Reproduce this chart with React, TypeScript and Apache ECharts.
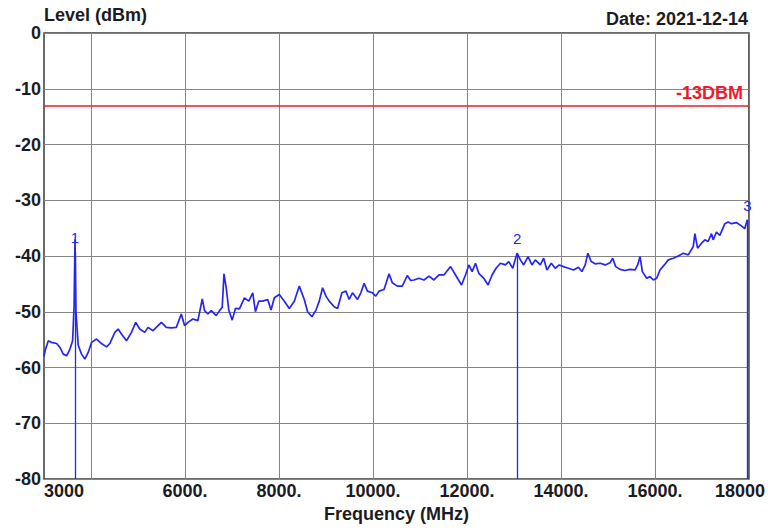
import React, { useEffect, useRef } from "react";
import * as echarts from "echarts";

const traceFreqMHz = [
  3000, 3030, 3092, 3163, 3269, 3340, 3410, 3481, 3552, 3609, 3640, 3660, 3680, 3728, 3799, 3870, 3940,
  4012, 4118, 4224, 4330, 4400, 4507, 4577, 4648, 4755, 4861, 4952, 5037, 5143, 5213, 5319, 5390, 5497,
  5603, 5709, 5815, 5921, 5992, 6062, 6168, 6274, 6368, 6416, 6487, 6559, 6665, 6735, 6792, 6830, 6877,
  6932, 7004, 7074, 7159, 7265, 7357, 7442, 7499, 7569, 7654, 7760, 7831, 7901, 8007, 8114, 8220, 8326,
  8432, 8538, 8609, 8702, 8787, 8857, 8928, 8999, 9069, 9175, 9246, 9339, 9424, 9494, 9564, 9671, 9742,
  9812, 9882, 9988, 10060, 10130, 10236, 10342, 10412, 10518, 10624, 10730, 10803, 10873, 10979, 11085,
  11191, 11297, 11403, 11509, 11651, 11757, 11884, 11969, 12040, 12110, 12181, 12252, 12358, 12449, 12534,
  12619, 12712, 12818, 12889, 12974, 13066, 13137, 13207, 13299, 13384, 13454, 13561, 13631, 13702, 13794,
  13879, 13964, 14055, 14161, 14267, 14373, 14445, 14516, 14572, 14643, 14728, 14834, 14940, 15046, 15101,
  15165, 15258, 15364, 15470, 15576, 15632, 15683, 15732, 15823, 15895, 15965, 16036, 16108, 16199, 16284,
  16390, 16496, 16603, 16709, 16815, 16850, 16906, 16991, 17062, 17132, 17203, 17239, 17309, 17381, 17487,
  17557, 17627, 17733, 17839, 17910, 17965,
];

const traceLevelDbm = [
  -58.0, -56.8, -55.2, -55.5, -55.7, -56.4, -57.6, -57.9, -56.7, -55.2, -49.0, -37.0, -50.0, -56.0, -57.6, -58.5, -57.3,
  -55.5, -54.9, -55.7, -56.3, -55.7, -53.7, -53.1, -54.0, -55.2, -53.7, -51.9, -53.1, -53.7, -52.8, -53.4, -52.8, -51.9,
  -52.8, -52.9, -52.8, -50.4, -52.5, -51.9, -51.3, -51.6, -47.7, -49.8, -50.4, -49.8, -50.7, -49.8, -49.2, -43.2, -45.7,
  -49.7, -51.5, -49.4, -49.5, -47.5, -48.1, -46.6, -50.0, -48.1, -48.1, -47.8, -49.7, -47.5, -46.9, -48.1, -49.4, -48.1,
  -45.4, -47.8, -50.0, -50.9, -49.7, -48.1, -45.7, -47.2, -48.1, -49.1, -49.4, -46.6, -46.3, -47.8, -46.6, -47.8, -46.6,
  -44.9, -46.3, -46.6, -47.2, -46.3, -46.0, -43.2, -44.8, -45.4, -45.4, -43.5, -44.4, -44.3, -44.0, -44.3,
  -43.6, -44.3, -43.4, -43.4, -41.9, -43.4, -45.2, -43.4, -41.6, -42.8, -41.3, -43.1, -44.0, -45.2, -43.4,
  -42.2, -41.3, -41.6, -41.0, -42.2, -39.5, -40.7, -41.6, -40.1, -41.6, -40.7, -41.6, -40.4, -42.5, -41.3,
  -42.2, -41.6, -41.9, -42.2, -42.5, -42.0, -42.8, -41.6, -39.5, -41.0, -41.4, -41.3, -41.6, -41.2, -40.4,
  -41.9, -42.4, -42.6, -42.4, -42.5, -41.6, -40.1, -42.8, -44.0, -43.7, -44.3, -44.0, -42.5, -41.6, -40.7,
  -40.4, -40.0, -39.5, -39.8, -38.3, -36.0, -38.6, -37.7, -37.1, -37.4, -36.0, -37.1, -35.7, -36.3, -34.2,
  -33.9, -34.2, -34.0, -34.6, -35.1, -33.5,
];

const markerNames = ["1", "2", "3"];
const markerFreqMHz = [3660, 13066, 17965];
const markerLevelDbm = [-39.3, -39.5, -33.5];

const limitDbm = -13;
const limitLabel = "-13DBM";

const xMin = 3000;
const xMax = 18000;
const xGridValues = [4000, 6000, 8000, 10000, 12000, 14000, 16000];
const xLabelValues = [3000, 6000, 8000, 10000, 12000, 14000, 16000, 18000];
const xLabelTexts = ["3000", "6000.", "8000.", "10000.", "12000.", "14000.", "16000.", "18000"];

const yMin = -80;
const yMax = 0;
const yStep = 10;

const dateText = "Date: 2021-12-14";
const yTitle = "Level (dBm)";
const xTitle = "Frequency (MHz)";

const FONT = "'Liberation Sans', Arial, sans-serif";
const TEXT = "#1b1b22";
const BLUE = "#2626f2";
const RED = "#ee1c2a";

export default function App() {
  const ref = useRef<HTMLDivElement>(null);

  useEffect(() => {
    if (!ref.current) return;
    const chart = echarts.init(ref.current, null, { renderer: "svg" });

    const traceData = traceFreqMHz.map((f, i) => [f, traceLevelDbm[i]]);

    const markerLines = markerFreqMHz.map((f, i) => [
      {
        coord: [f, markerLevelDbm[i]],
        lineStyle: { color: BLUE, width: 1.3, type: "solid" },
        label: {
          show: true,
          position: "start",
          formatter: markerNames[i],
          color: BLUE,
          fontFamily: FONT,
          fontSize: 15,
          distance: 7,
        },
      },
      { coord: [f, yMin] },
    ]);

    chart.setOption({
      animation: false,
      backgroundColor: "#ffffff",
      title: {
        text: dateText,
        right: 15,
        top: 5,
        textStyle: { fontFamily: FONT, fontSize: 18, fontWeight: "bold", color: TEXT },
      },
      grid: {
        left: 44,
        right: 17,
        top: 33,
        bottom: 51,
        show: true,
        borderColor: "#3a3a3a",
        borderWidth: 1.5,
        backgroundColor: "transparent",
      },
      xAxis: {
        type: "value",
        min: xMin,
        max: xMax,
        name: xTitle,
        nameLocation: "middle",
        nameGap: 24,
        nameTextStyle: { fontFamily: FONT, fontSize: 18, fontWeight: "bold", color: TEXT },
        axisLine: { show: false },
        axisTick: { show: false, customValues: xGridValues },
        axisLabel: {
          customValues: xLabelValues,
          formatter: (v: number) => {
            const idx = xLabelValues.indexOf(v);
            if (idx < 0) return "";
            return v === xMax ? "{edge|" + xLabelTexts[idx] + "}" : xLabelTexts[idx];
          },
          rich: {
            edge: {
              width: 34,
              align: "left",
              fontFamily: FONT,
              fontSize: 18,
              fontWeight: "bold",
              color: TEXT,
            },
          },
          fontFamily: FONT,
          fontSize: 18,
          fontWeight: "bold",
          color: TEXT,
          margin: 3,
          alignMinLabel: "left",
          alignMaxLabel: "right",
          hideOverlap: false,
        },
        splitLine: { show: true, lineStyle: { color: "#858585", width: 1 } },
      },
      yAxis: {
        type: "value",
        min: yMin,
        max: yMax,
        interval: yStep,
        name: yTitle,
        nameLocation: "end",
        nameGap: 3,
        nameTextStyle: {
          fontFamily: FONT,
          fontSize: 18,
          fontWeight: "bold",
          color: TEXT,
          align: "left",
        },
        axisLine: { show: false },
        axisTick: { show: false },
        axisLabel: {
          fontFamily: FONT,
          fontSize: 18,
          fontWeight: "bold",
          color: TEXT,
          margin: 3,
        },
        splitLine: { show: true, lineStyle: { color: "#858585", width: 1 } },
      },
      series: [
        {
          type: "line",
          name: "Trace",
          data: traceData,
          showSymbol: false,
          symbol: "none",
          lineStyle: { color: BLUE, width: 1.7 },
          z: 3,
          markLine: {
            silent: true,
            symbol: ["none", "none"],
            animation: false,
            data: [
              {
                yAxis: limitDbm,
                lineStyle: { color: RED, width: 1.6, type: "solid" },
                label: {
                  show: true,
                  position: "insideEndTop",
                  formatter: limitLabel,
                  color: RED,
                  fontFamily: FONT,
                  fontSize: 18,
                  fontWeight: "bold",
                  distance: [6, 3],
                },
              },
              ...markerLines,
            ],
          },
        },
      ],
    });

    return () => chart.dispose();
  }, []);

  return (
    <div
      ref={ref}
      style={{ position: "fixed", left: 0, top: 0, width: 768, height: 530, background: "#fff" }}
    />
  );
}
